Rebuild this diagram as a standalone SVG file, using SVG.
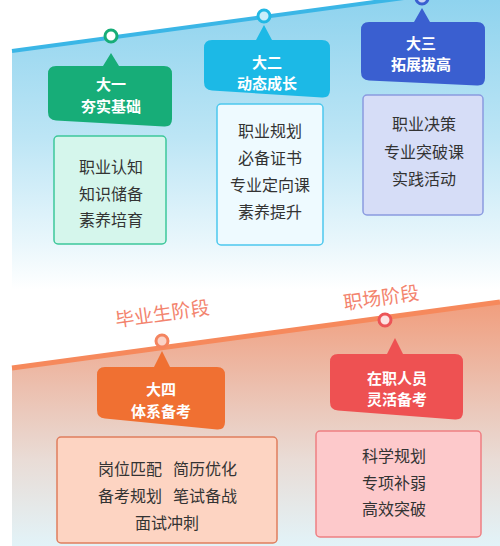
<svg xmlns="http://www.w3.org/2000/svg" width="500" height="546" viewBox="0 0 500 546">
<defs>
<linearGradient id="gBlue" x1="0" y1="0" x2="0" y2="546" gradientUnits="userSpaceOnUse">
<stop offset="0" stop-color="#8fd3ee"/>
<stop offset="0.25" stop-color="#bce5f5"/>
<stop offset="0.45" stop-color="#eaf7fc"/>
<stop offset="0.53" stop-color="#ffffff"/>
</linearGradient>
<linearGradient id="gOrange" x1="0" y1="300" x2="0" y2="546" gradientUnits="userSpaceOnUse">
<stop offset="0" stop-color="#f19d7c"/>
<stop offset="0.35" stop-color="#ecbfae"/>
<stop offset="0.65" stop-color="#e9dcd6"/>
<stop offset="1" stop-color="#e2f3f8"/>
</linearGradient>
<style>
.t{font-family:"Noto Sans CJK SC","Noto Sans",sans-serif;}
.h{font-size:15px;font-weight:bold;fill:#ffffff;text-anchor:middle;dominant-baseline:central;}
.l{font-size:16px;fill:#333333;text-anchor:middle;dominant-baseline:central;}
.stage{font-size:19px;fill:#f3846e;text-anchor:middle;dominant-baseline:central;}
.box{stroke-width:1.5;}
.dot{stroke-width:3;}
</style>
</defs>
<rect width="500" height="546" fill="#ffffff"/>
<polygon points="12,51 500,-15 500,310 12,375" fill="url(#gBlue)"/>
<polygon points="12,368 500,302 500,546 12,546" fill="url(#gOrange)"/>

<g id="connectors">
<line x1="12" y1="51" x2="500" y2="-15" stroke="#3bb6e6" stroke-width="4"/>
<line x1="12" y1="368" x2="500" y2="302" stroke="#f6895c" stroke-width="5"/>
<circle class="dot" cx="111" cy="36" r="6" fill="#ffffff" stroke="#17ad78"/>
<circle class="dot" cx="264" cy="16" r="6" fill="#c9eefa" stroke="#22b8e4"/>
<circle class="dot" cx="422" cy="-2" r="6" fill="#c9d4f5" stroke="#3a5fd0"/>
<circle class="dot" cx="162" cy="341" r="6" fill="#fbd2c6" stroke="#f4845f"/>
<circle class="dot" cx="385" cy="320" r="6" fill="#fde3e3" stroke="#ec5457"/>
</g>

<g id="stage-labels">
<text class="t stage" x="162" y="312" transform="rotate(-8 162 312)">毕业生阶段</text>
<text class="t stage" x="381" y="296" transform="rotate(-8 381 296)">职场阶段</text>
</g>

<g id="node-da1">
<path d="M56 66 L103 66 L111 53 L119 66 L164 66 Q172 66 172 74 L172 119 Q172 127 164 126.5 L56 120.5 Q48 120 48 112 L48 74 Q48 66 56 66 Z" fill="#17ad78"/>
<text class="t h" x="111" y="83">大一</text>
<text class="t h" x="111" y="105">夯实基础</text>
<rect class="box" x="54" y="136" width="112" height="108" rx="4" fill="#d5f6ec" stroke="#3cc79a"/>
<text class="t l" x="111" y="166">职业认知</text>
<text class="t l" x="111" y="193">知识储备</text>
<text class="t l" x="111" y="219">素养培育</text>
</g>

<g id="node-da2">
<path d="M212 40 L256 40 L264 25 L272 40 L322 40 Q330 40 330 48 L330 90 Q330 98 322 97.5 L212 90.5 Q204 90 204 82 L204 48 Q204 40 212 40 Z" fill="#1cb9e6"/>
<text class="t h" x="267" y="61">大二</text>
<text class="t h" x="267" y="82">动态成长</text>
<rect class="box" x="217" y="104" width="106" height="141" rx="4" fill="#eefaff" stroke="#4cc8ee"/>
<text class="t l" x="270" y="130">职业规划</text>
<text class="t l" x="270" y="157">必备证书</text>
<text class="t l" x="270" y="184">专业定向课</text>
<text class="t l" x="270" y="211">素养提升</text>
</g>

<g id="node-da3">
<path d="M369 22 L414 22 L422 8 L430 22 L477 22 Q485 22 485 30 L485 78 Q485 86 477 85.5 L369 80.5 Q361 80 361 72 L361 30 Q361 22 369 22 Z" fill="#3a5fd0"/>
<text class="t h" x="421" y="42">大三</text>
<text class="t h" x="421" y="63">拓展拔高</text>
<rect class="box" x="363" y="95" width="120" height="120" rx="4" fill="#d6ddf7" stroke="#8a9be0"/>
<text class="t l" x="424" y="123">职业决策</text>
<text class="t l" x="424" y="151">专业突破课</text>
<text class="t l" x="424" y="178">实践活动</text>
</g>

<g id="node-da4">
<path d="M105 367 L154 367 L162 351 L170 367 L217 367 Q225 367 225 375 L225 422 Q225 430 217 429.5 L105 418.5 Q97 418 97 410 L97 375 Q97 367 105 367 Z" fill="#f07032"/>
<text class="t h" x="161" y="388">大四</text>
<text class="t h" x="161" y="410">体系备考</text>
<rect class="box" x="57" y="437" width="220" height="106" rx="4" fill="#fdd4c2" stroke="#df7d5e"/>
<text class="t l" x="130" y="468">岗位匹配</text>
<text class="t l" x="205" y="468">简历优化</text>
<text class="t l" x="130" y="495">备考规划</text>
<text class="t l" x="205" y="495">笔试备战</text>
<text class="t l" x="167" y="522">面试冲刺</text>
</g>

<g id="node-work">
<path d="M338 354 L387 354 L395 338 L403 354 L455 354 Q463 354 463 362 L463 412 Q463 420 455 419.5 L338 410.5 Q330 410 330 402 L330 362 Q330 354 338 354 Z" fill="#ee5152"/>
<text class="t h" x="397" y="377">在职人员</text>
<text class="t h" x="397" y="398">灵活备考</text>
<rect class="box" x="316" y="431" width="165" height="106" rx="4" fill="#fdc9cb" stroke="#ee7f83"/>
<text class="t l" x="394" y="455">科学规划</text>
<text class="t l" x="394" y="482">专项补弱</text>
<text class="t l" x="394" y="508">高效突破</text>
</g>
</svg>
